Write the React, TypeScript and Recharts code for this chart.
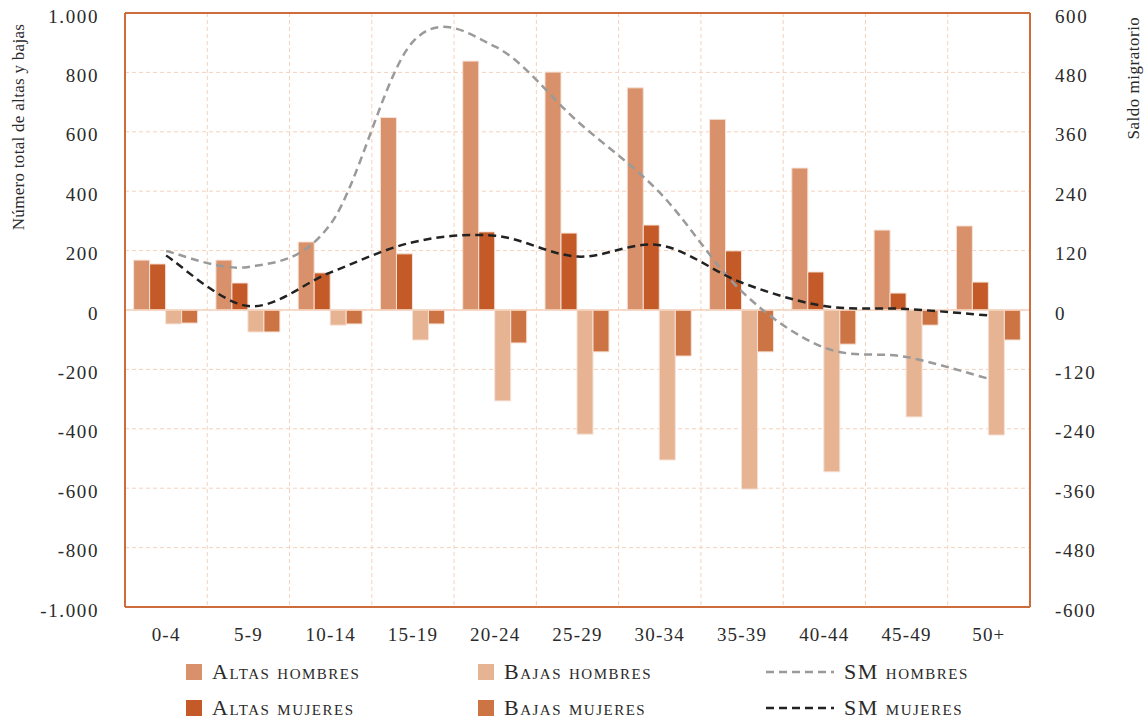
import React from 'react';
import {
  ComposedChart, Bar, Line, XAxis, YAxis, CartesianGrid, ReferenceLine,
} from 'recharts';

const categories = ['0-4', '5-9', '10-14', '15-19', '20-24', '25-29', '30-34', '35-39', '40-44', '45-49', '50+'];
const altasHombres = [168, 168, 229, 648, 838, 801, 748, 642, 478, 269, 283];
const altasMujeres = [155, 91, 125, 189, 263, 259, 286, 199, 128, 57, 94];
const bajasHombres = [-47, -74, -51, -101, -306, -418, -505, -603, -545, -360, -421];
const bajasMujeres = [-44, -74, -47, -47, -111, -141, -155, -141, -115, -51, -101];
const smHombres = [119, 87, 174, 542, 532, 381, 237, 37, -76, -95, -139];
const smMujeres = [110, 8, 76, 137, 150, 108, 131, 55, 8, 2, -11];

const leftTicks = [-1000, -800, -600, -400, -200, 0, 200, 400, 600, 800, 1000];
const rightTicks = [-600, -480, -360, -240, -120, 0, 120, 240, 360, 480, 600];

const seriesNames = {
  ah: 'Altas hombres',
  am: 'Altas mujeres',
  bh: 'Bajas hombres',
  bm: 'Bajas mujeres',
  sh: 'SM hombres',
  sm: 'SM mujeres',
};

const colors = {
  ah: '#D8916A',
  am: '#C35A27',
  bh: '#E6B393',
  bm: '#CD7444',
  sh: '#9A9A9A',
  sm: '#222222',
};

const data = categories.map((c, i) => ({
  cat: c,
  ah: altasHombres[i],
  am: altasMujeres[i],
  bh: bajasHombres[i],
  bm: bajasMujeres[i],
  sh: smHombres[i],
  sm: smMujeres[i],
}));

const fmt = (v: number): string => {
  if (v < 0) return '-' + fmt(-v);
  if (v >= 1000) return Math.floor(v / 1000) + '.' + String(v % 1000).padStart(3, '0');
  return String(v);
};

// Catmull-Rom style smoothing (like spreadsheet "smoothed line")
const smoothCurve = (context: any) => {
  let pts: number[][] = [];
  return {
    areaStart() {},
    areaEnd() {},
    lineStart() { pts = []; },
    point(x: number, y: number) { pts.push([+x, +y]); },
    lineEnd() {
      const n = pts.length;
      if (!n) return;
      context.moveTo(pts[0][0], pts[0][1]);
      for (let i = 0; i < n - 1; i++) {
        const p0 = pts[i - 1] || pts[i];
        const p1 = pts[i];
        const p2 = pts[i + 1];
        const p3 = pts[i + 2] || p2;
        context.bezierCurveTo(
          p1[0] + (p2[0] - p0[0]) / 6, p1[1] + (p2[1] - p0[1]) / 6,
          p2[0] - (p3[0] - p1[0]) / 6, p2[1] - (p3[1] - p1[1]) / 6,
          p2[0], p2[1],
        );
      }
    },
  };
};

const FONT = '"Liberation Serif", serif';
const TEXT = '#2a2a2a';
const BORDER = '#CF6C3C';
const GRID = '#F4D2BD';

const yTickStyle = { fontFamily: FONT, fontSize: 19, fill: TEXT, letterSpacing: 1.6 };
const xTickStyle = { fontFamily: FONT, fontSize: 19, fill: TEXT, letterSpacing: 1.2 };

const YTick = (props: any) => {
  const { x, y, payload, textAnchor } = props;
  return (
    <text x={x} y={y + 3} textAnchor={textAnchor} dominantBaseline="central" style={yTickStyle}>
      {fmt(payload.value)}
    </text>
  );
};

const LeftLabel = (props: any) => {
  const vb = props.viewBox;
  const x = vb.x + 18;
  const y = vb.y + 114;
  return (
    <text x={x} y={y} transform={`rotate(-90 ${x} ${y})`} textAnchor="middle" dominantBaseline="central"
      style={{ fontFamily: FONT, fontSize: 17, fill: TEXT, letterSpacing: 0.3 }}>
      Número total de altas y bajas
    </text>
  );
};

const RightLabel = (props: any) => {
  const vb = props.viewBox;
  const x = vb.x + 103;
  const y = vb.y + 65;
  return (
    <text x={x} y={y} transform={`rotate(-90 ${x} ${y})`} textAnchor="middle" dominantBaseline="central"
      style={{ fontFamily: FONT, fontSize: 17, fill: TEXT, letterSpacing: 0.5 }}>
      Saldo migratorio
    </text>
  );
};

const legendItems = [
  { key: 'ah', kind: 'box', left: 186, top: 672 },
  { key: 'bh', kind: 'box', left: 478, top: 672 },
  { key: 'sh', kind: 'line', left: 766, top: 672 },
  { key: 'am', kind: 'box', left: 186, top: 708 },
  { key: 'bm', kind: 'box', left: 478, top: 708 },
  { key: 'sm', kind: 'line', left: 766, top: 708 },
];

const Legend2 = () => (
  <>
    {legendItems.map((it) => {
      const k = it.key as keyof typeof colors;
      return (
        <div key={it.key} style={{
          position: 'absolute', left: it.left, top: it.top - 14, height: 28,
          display: 'flex', alignItems: 'center', whiteSpace: 'nowrap',
        }}>
          {it.kind === 'box' ? (
            <div style={{ width: 16, height: 16, background: colors[k], marginRight: 10 }} />
          ) : (
            <svg width={68} height={6} style={{ marginRight: 10 }}>
              <line x1={0} y1={3} x2={68} y2={3} stroke={colors[k]} strokeWidth={2.5} strokeDasharray="8 5" />
            </svg>
          )}
          <span style={{
            fontFamily: FONT, fontSize: 22, color: TEXT, fontVariant: 'small-caps', letterSpacing: 1.5,
          }}>{seriesNames[k]}</span>
        </div>
      );
    })}
  </>
);

export default function App() {
  const vGen = ({ offset }: any) => {
    const arr: number[] = [];
    const n = categories.length;
    for (let i = 1; i < n; i++) arr.push(offset.left + (offset.width * i) / n);
    return arr;
  };
  return (
    <div style={{ position: 'absolute', left: 0, top: 0, width: 1148, height: 722, background: '#fff' }}>
      <ComposedChart
        width={1148}
        height={722}
        data={data}
        margin={{ top: 13, right: 0, bottom: 0, left: 0 }}
        barCategoryGap="10.5%"
        barGap={0}
      >
        <CartesianGrid
          yAxisId="left"
          stroke={GRID}
          strokeDasharray="4 3"
          strokeWidth={1}
          verticalCoordinatesGenerator={vGen}
        />
        <XAxis
          dataKey="cat"
          height={115}
          tickLine={false}
          tickSize={0}
          tickMargin={21}
          axisLine={{ stroke: BORDER, strokeWidth: 2 }}
          tick={xTickStyle}
          interval={0}
        />
        <YAxis
          yAxisId="left"
          width={125}
          domain={[-1000, 1000]}
          ticks={leftTicks}
          tickLine={false}
          tickSize={0}
          tickMargin={26}
          axisLine={{ stroke: BORDER, strokeWidth: 2 }}
          tick={<YTick />}
          interval={0}
          label={<LeftLabel />}
        />
        <YAxis
          yAxisId="right"
          orientation="right"
          width={118}
          domain={[-600, 600]}
          ticks={rightTicks}
          tickLine={false}
          tickSize={0}
          tickMargin={25}
          axisLine={{ stroke: BORDER, strokeWidth: 2 }}
          tick={<YTick />}
          interval={0}
          label={<RightLabel />}
        />
        <ReferenceLine yAxisId="left" y={1000} stroke={BORDER} strokeWidth={2} />
        <ReferenceLine yAxisId="left" y={0} stroke={GRID} strokeWidth={1.5} />
        <Bar yAxisId="left" dataKey="ah" name={seriesNames.ah} fill={colors.ah} stroke="#F6E2D6" strokeWidth={1} isAnimationActive={false} />
        <Bar yAxisId="left" dataKey="am" name={seriesNames.am} fill={colors.am} stroke="#F6E2D6" strokeWidth={1} isAnimationActive={false} />
        <Bar yAxisId="left" dataKey="bh" name={seriesNames.bh} fill={colors.bh} stroke="#F6E2D6" strokeWidth={1} isAnimationActive={false} />
        <Bar yAxisId="left" dataKey="bm" name={seriesNames.bm} fill={colors.bm} stroke="#F6E2D6" strokeWidth={1} isAnimationActive={false} />
        <Line yAxisId="right" dataKey="sh" name={seriesNames.sh} type={smoothCurve as any} stroke={colors.sh} strokeWidth={2.5} strokeDasharray="8 5" dot={false} activeDot={false} isAnimationActive={false} />
        <Line yAxisId="right" dataKey="sm" name={seriesNames.sm} type={smoothCurve as any} stroke={colors.sm} strokeWidth={2.5} strokeDasharray="8 5" dot={false} activeDot={false} isAnimationActive={false} />
      </ComposedChart>
      <Legend2 />
    </div>
  );
}
